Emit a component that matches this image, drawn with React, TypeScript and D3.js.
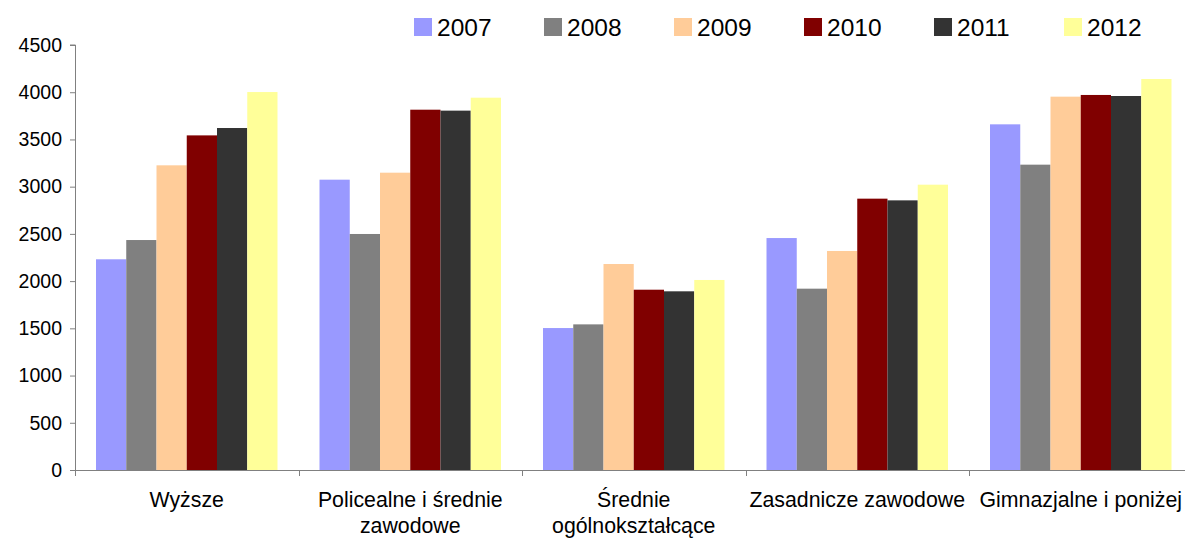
import React, { useEffect, useRef } from 'react';
import * as d3 from 'd3';

const categories = [
  ['Wyższe'],
  ['Policealne i średnie', 'zawodowe'],
  ['Średnie', 'ogólnokształcące'],
  ['Zasadnicze zawodowe'],
  ['Gimnazjalne i poniżej'],
];
const years = ['2007', '2008', '2009', '2010', '2011', '2012'];
const colors = ['#9999FF', '#808080', '#FFCC99', '#800000', '#333333', '#FFFF99'];

const v2007 = [2231, 3074, 1503, 2456, 3660];
const v2008 = [2435, 2499, 1542, 1920, 3233];
const v2009 = [3226, 3148, 2181, 2319, 3953];
const v2010 = [3543, 3815, 1909, 2873, 3971];
const v2011 = [3621, 3805, 1892, 2855, 3960];
const v2012 = [4002, 3942, 2012, 3021, 4140];
const series = [v2007, v2008, v2009, v2010, v2011, v2012];

const yTicks = [0, 500, 1000, 1500, 2000, 2500, 3000, 3500, 4000, 4500];

const W = 1185, H = 538;

const App = () => {
  const svgRef = useRef(null);

  useEffect(() => {
    const svg = d3.select(svgRef.current);
    svg.selectAll('*').remove();

    const left = 75, bottom = 470, top = 45;
    const groupW = 223.5;
    const keys = categories.map((c, i) => String(i));

    const x0 = d3.scaleBand().domain(keys).range([left, left + groupW * keys.length]).padding(0);
    const x1 = d3.scaleBand().domain(years).range([21, groupW - 21]).padding(0);
    const y = d3.scaleLinear().domain([0, 4500]).range([bottom, top]);

    // bars
    years.forEach((yr, si) => {
      svg.append('g')
        .selectAll('rect')
        .data(series[si])
        .join('rect')
        .attr('x', (d, i) => x0(String(i)) + x1(yr))
        .attr('y', d => y(d))
        .attr('width', x1.bandwidth())
        .attr('height', d => bottom - y(d))
        .attr('fill', colors[si]);
    });

    const axisColor = '#808080';
    const font = 'Arial, "Liberation Sans", sans-serif';

    // y axis
    const yAxis = svg.append('g')
      .attr('transform', `translate(${left},0)`)
      .call(d3.axisLeft(y).tickValues(yTicks).tickSize(5).tickPadding(8).tickFormat(d3.format('d')));
    yAxis.select('.domain').attr('stroke', axisColor).attr('d', `M-5,${top}H0.5V${bottom}`);
    yAxis.selectAll('.tick line').attr('stroke', axisColor);
    yAxis.selectAll('text')
      .style('font-family', font)
      .style('font-size', '19.5px')
      .attr('fill', '#000');

    // x axis line
    svg.append('line')
      .attr('x1', left).attr('x2', W)
      .attr('y1', bottom + 0.5).attr('y2', bottom + 0.5)
      .attr('stroke', axisColor);

    // x boundary ticks
    const bounds = keys.map(k => x0(k)).concat([left + groupW * keys.length]);
    svg.append('g')
      .selectAll('line')
      .data(bounds)
      .join('line')
      .attr('x1', d => Math.round(d) + 0.5).attr('x2', d => Math.round(d) + 0.5)
      .attr('y1', bottom).attr('y2', bottom + 6)
      .attr('stroke', axisColor);

    // x labels
    const lab = svg.append('g')
      .selectAll('text')
      .data(categories)
      .join('text')
      .attr('x', (d, i) => x0(String(i)) + groupW / 2)
      .attr('y', 507)
      .attr('text-anchor', 'middle')
      .style('font-family', font)
      .style('font-size', '21.3px')
      .attr('fill', '#000');
    lab.selectAll('tspan')
      .data(d => d)
      .join('tspan')
      .attr('x', function () { return d3.select(this.parentNode).attr('x'); })
      .attr('dy', (d, i) => (i === 0 ? 0 : 26))
      .text(d => d);

    // legend
    const legend = svg.append('g')
      .selectAll('g')
      .data(years)
      .join('g')
      .attr('transform', (d, i) => `translate(${414 + i * 130},18)`);
    legend.append('rect')
      .attr('width', 18).attr('height', 18)
      .attr('fill', (d, i) => colors[i]);
    legend.append('text')
      .attr('x', 23).attr('y', 17.5)
      .style('font-family', font)
      .style('font-size', '24.5px')
      .attr('fill', '#000')
      .text(d => d);
  }, []);

  return (
    <svg ref={svgRef} width={W} height={H}
      style={{ position: 'absolute', left: 0, top: 0, display: 'block', background: '#fff' }} />
  );
};

export default App;
